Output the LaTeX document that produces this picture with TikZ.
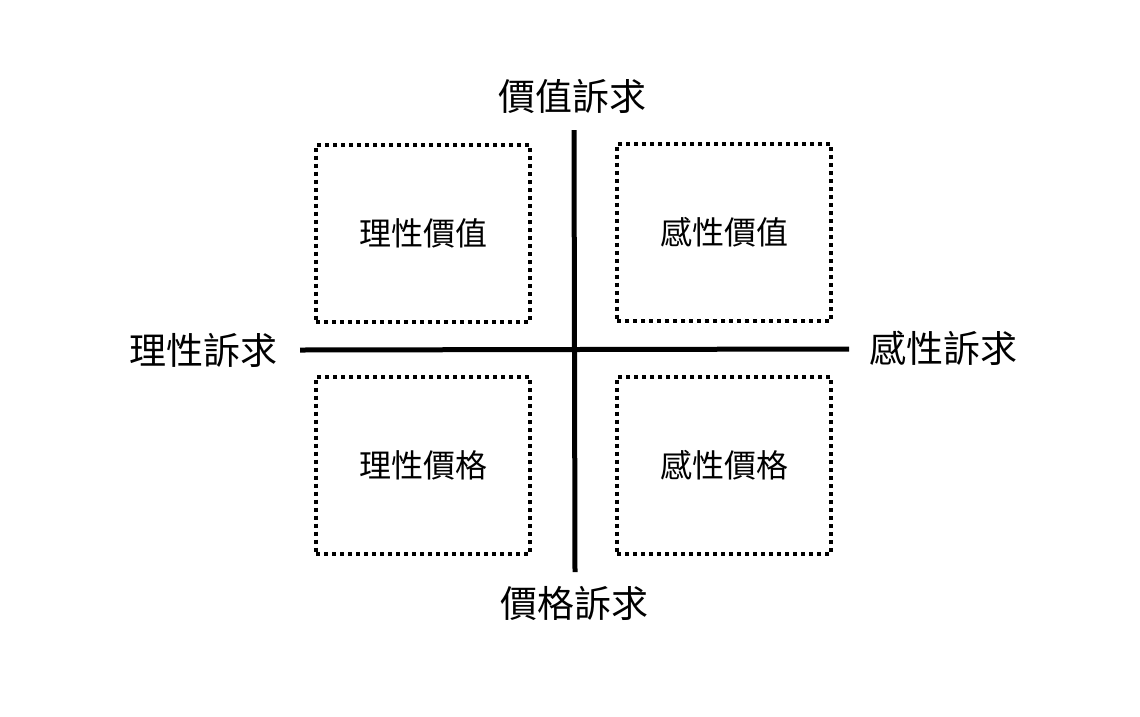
\documentclass[tikz,border=0pt]{standalone}
\usepackage{fontspec}
\newfontfamily\tcfont{Noto Sans CJK TC}
\usetikzlibrary{positioning}
\tikzset{
  quad/.style={draw, dash pattern=on 4pt off 4pt, line width=4pt,
    minimum width=214pt, minimum height=177pt, inner sep=0pt,
    font=\tcfont\fontsize{32}{32}\selectfont},
  axislabel/.style={inner sep=0pt, font=\tcfont\fontsize{37}{37}\selectfont},
  axis/.style={line width=5pt}
}

\begin{document}
\begin{tikzpicture}[x=1pt,y=-1pt]
\useasboundingbox (0,0) rectangle (1140,716);
\node[quad] (rv) at (423,233) {理性價值};
\node[quad] (ev) at (724,232) {感性價值};
\node[quad] (rp) at (423,465) {理性價格};
\node[quad] (ep) at (724,465) {感性價格};
\coordinate (top) at (574,130);
\coordinate (bottom) at (575,572);
\coordinate (left) at (300,350);
\coordinate (right) at (849,349);
\draw[axis] (top) -- (bottom);
\draw[axis] (left) -- (right);
\node[axislabel] (vlabel) at (572,96) {價值訴求};
\node[axislabel] (plabel) at (574,603) {價格訴求};
\node[axislabel] (rlabel) at (203,350) {理性訴求};
\node[axislabel] (elabel) at (943,348) {感性訴求};
\end{tikzpicture}
\end{document}
